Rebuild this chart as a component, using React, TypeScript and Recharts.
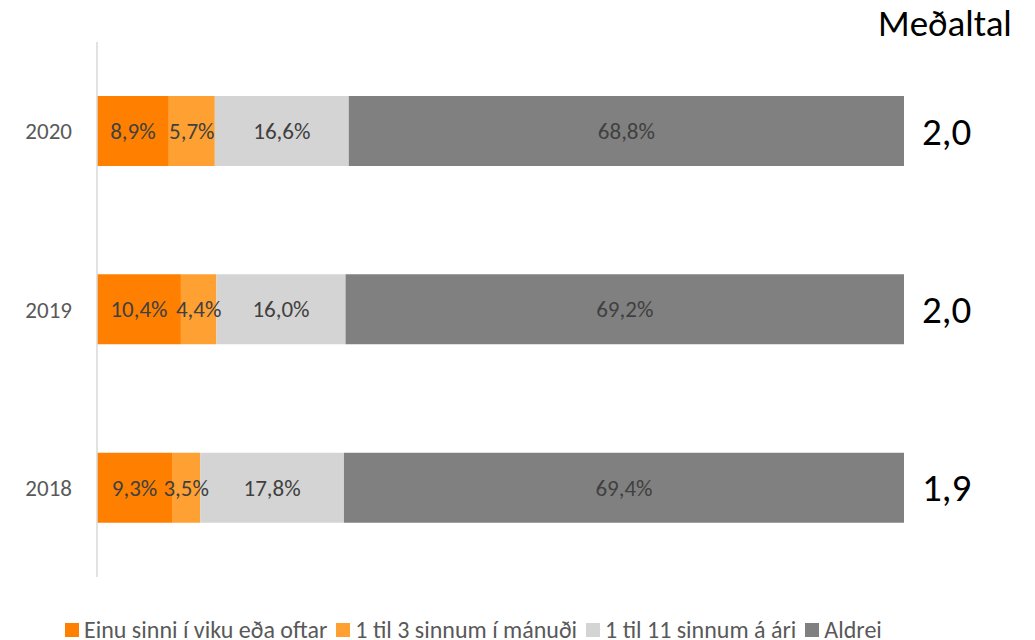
import { BarChart, Bar, XAxis, YAxis, LabelList } from "recharts";

const years = ["2020", "2019", "2018"];
const weekly = [8.9, 10.4, 9.3];
const monthly = [5.7, 4.4, 3.5];
const yearly = [16.6, 16.0, 17.8];
const never = [68.8, 69.2, 69.4];
const averages = [2.0, 2.0, 1.9];

const seriesNames = [
  "Einu sinni í viku eða oftar",
  "1 til 3 sinnum í mánuði",
  "1 til 11 sinnum á ári",
  "Aldrei",
];
const colors = ["#FF8000", "#FFA033", "#D4D4D4", "#808080"];

const data = years.map((y, i) => ({
  year: y,
  weekly: weekly[i],
  monthly: monthly[i],
  yearly: yearly[i],
  never: never[i],
  avg: averages[i],
}));

const FONT = "Carlito, Lato, sans-serif";

const pct = (v: any) => Number(v).toFixed(1).replace(".", ",") + "%";

const YearTick = (props: any) => {
  const { x, y, payload } = props;
  return (
    <text
      x={x - 23}
      y={y}
      textAnchor="end"
      dominantBaseline="central"
      fontSize={23}
      fontFamily={FONT}
      fill="#595959"
    >
      {payload.value}
    </text>
  );
};

const AvgLabel = (props: any) => {
  const { x, y, width, height, value } = props;
  return (
    <text
      x={x + width + 18}
      y={y + height / 2}
      dominantBaseline="central"
      fontSize={39}
      fontFamily={FONT}
      fill="#000"
    >
      {Number(value).toFixed(1).replace(".", ",")}
    </text>
  );
};

export default function App() {
  const keys = ["weekly", "monthly", "yearly", "never"];
  return (
    <div
      style={{
        position: "absolute",
        left: 0,
        top: 0,
        width: 1035,
        height: 640,
        background: "#fff",
        fontFamily: FONT,
      }}
    >
      <div
        style={{
          position: "absolute",
          left: 878,
          top: 0,
          fontSize: 37,
          lineHeight: "48px",
          color: "#000",
        }}
      >
        Meðaltal
      </div>
      <BarChart
        width={1035}
        height={640}
        data={data}
        layout="vertical"
        margin={{ top: 42, right: 131, bottom: 63, left: 0 }}
        style={{ fontFamily: FONT }}
      >
        <XAxis type="number" domain={[0, 100]} hide />
        <YAxis
          type="category"
          dataKey="year"
          width={97}
          axisLine={{ stroke: "#D9D9D9", strokeWidth: 1.5 }}
          tickLine={false}
          tickSize={0}
          tick={<YearTick />}
        />
        {keys.map((k, i) => (
          <Bar
            key={k}
            dataKey={k}
            stackId="a"
            fill={colors[i]}
            barSize={70}
            isAnimationActive={false}
          >
            <LabelList
              dataKey={k}
              position="center"
              formatter={pct}
              fill="#404040"
              fontSize={23}
              fontFamily={FONT}
            />
            {k === "never" && (
              <LabelList dataKey="avg" content={<AvgLabel />} />
            )}
          </Bar>
        ))}
      </BarChart>
      <div
        style={{
          position: "absolute",
          left: 65,
          top: 615,
          display: "flex",
          alignItems: "center",
          fontSize: 24,
          lineHeight: "30px",
          color: "#595959",
          whiteSpace: "nowrap",
        }}
      >
        {seriesNames.map((n, i) => (
          <div
            key={n}
            style={{ display: "flex", alignItems: "center", marginRight: 9 }}
          >
            <span
              style={{
                display: "inline-block",
                width: 14,
                height: 14,
                background: colors[i],
                marginRight: 5,
              }}
            />
            {n}
          </div>
        ))}
      </div>
    </div>
  );
}
